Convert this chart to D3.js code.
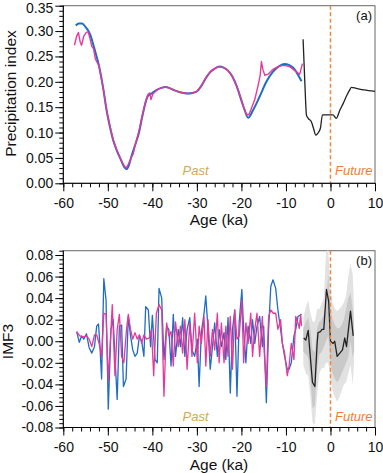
<!DOCTYPE html>
<html><head><meta charset="utf-8">
<script src="https://cdn.jsdelivr.net/npm/d3@7"></script>
<style>
body{margin:0;background:#fff}
svg{display:block}
text{font-family:"Liberation Sans",Arial,Helvetica,sans-serif}
</style>
</head><body>
<svg id="c" width="383" height="473"></svg>
<script>
// ---------- DATA ----------
const xTicks = [-60,-50,-40,-30,-20,-10,0,10];
const yTicksA = [0.00,0.05,0.10,0.15,0.20,0.25,0.30,0.35];
const yTicksB = [-0.08,-0.06,-0.04,-0.02,0.00,0.02,0.04,0.06,0.08];

// Panel (a) precipitation index
const ageBlueA = [-57.2,-56.5,-55.8,-55.0,-54.0,-53.0,-52.0,-51.0,-50.3,-49.5,-48.8,-48.0,-47.0,-46.3,-45.8,-45.3,-44.8,-44.0,-43.0,-42.3,-41.5,-41.0,-40.0,-39.0,-38.0,-37.0,-36.0,-35.0,-34.0,-33.0,-32.0,-31.0,-30.0,-29.0,-28.0,-27.0,-26.0,-25.0,-24.0,-23.0,-22.0,-21.0,-20.0,-19.3,-18.5,-17.4,-15.9,-14.4,-12.9,-11.5,-10.3,-8.4,-7.3,-6.5];
const valBlueA = [0.311,0.315,0.315,0.308,0.294,0.265,0.232,0.185,0.145,0.110,0.085,0.065,0.045,0.032,0.028,0.035,0.050,0.072,0.100,0.130,0.160,0.172,0.178,0.184,0.188,0.190,0.187,0.183,0.180,0.178,0.177,0.178,0.181,0.192,0.207,0.219,0.226,0.230,0.228,0.222,0.210,0.190,0.163,0.145,0.129,0.144,0.171,0.200,0.220,0.231,0.235,0.228,0.214,0.201];

const ageMagA = [-57.5,-57.0,-56.6,-56.2,-55.9,-55.4,-54.8,-54.4,-54.0,-53.6,-53.2,-52.8,-52.0,-51.0,-50.3,-49.5,-48.8,-48.0,-47.0,-46.3,-45.9,-45.5,-45.0,-44.7,-44.3,-44.0,-43.0,-42.3,-41.5,-41.0,-40.6,-40.3,-39.9,-39.0,-38.0,-37.0,-36.0,-35.0,-34.0,-33.0,-32.0,-31.0,-30.0,-29.0,-28.0,-27.0,-26.0,-25.0,-24.0,-23.0,-22.0,-21.0,-20.0,-19.5,-18.9,-18.3,-17.0,-16.2,-15.8,-15.5,-15.2,-14.75,-14.0,-13.0,-12.0,-11.0,-10.0,-9.0,-8.0,-6.9,-6.3];
const valMagA = [0.272,0.290,0.297,0.278,0.272,0.290,0.298,0.298,0.285,0.270,0.265,0.245,0.232,0.185,0.145,0.112,0.086,0.066,0.046,0.034,0.030,0.036,0.045,0.052,0.058,0.070,0.103,0.133,0.162,0.175,0.178,0.165,0.176,0.184,0.188,0.190,0.187,0.183,0.180,0.178,0.177,0.178,0.181,0.192,0.208,0.220,0.226,0.230,0.228,0.222,0.210,0.190,0.165,0.150,0.136,0.135,0.165,0.195,0.212,0.240,0.225,0.213,0.215,0.224,0.229,0.232,0.232,0.229,0.222,0.215,0.236];

const ageBlackA = [-6.15,-5.9,-5.6,-5.4,-5.0,-4.27,-3.8,-3.3,-2.8,-2.25,-1.8,-0.56,0.56,1.3,2.1,2.9,3.6,4.2,4.7,5.8,7.5,10.0];
const valBlackA = [0.284,0.230,0.165,0.135,0.128,0.121,0.108,0.095,0.099,0.109,0.135,0.135,0.135,0.128,0.144,0.158,0.172,0.182,0.189,0.187,0.184,0.181];

// Panel (b) IMF3
const ageBlueB = [-57.0,-56.4,-55.9,-55.4,-54.8,-54.2,-53.6,-53.0,-52.5,-52.1,-51.8,-51.4,-50.9,-50.4,-49.9,-49.3,-48.8,-48.4,-47.9,-47.4,-46.9,-46.5,-45.9,-45.4,-44.9,-44.4,-43.9,-43.4,-42.9,-42.4,-41.9,-41.5,-40.9,-40.4,-40.0,-39.4,-38.9,-38.5,-37.9,-37.4,-36.8,-36.3,-35.8,-35.3,-34.8,-34.2,-33.7,-33.2,-32.7,-32.2,-31.6,-31.1,-30.5,-29.9,-29.5,-29.0,-28.4,-28.0,-27.5,-27.0,-26.5,-26.0,-25.4,-25.0,-24.5,-23.9,-23.5,-23.0,-22.5,-22.0,-21.5,-21.0,-20.5,-19.9,-19.5,-19.0,-18.5,-17.9,-17.5,-17.0,-16.5,-15.9,-15.3,-15.0,-14.4,-13.9,-13.4,-12.9,-12.3,-11.8,-11.2,-10.8,-10.3,-9.7,-9.3,-8.8,-8.2,-7.8,-7.3,-6.5];
const valBlueB = [0.009,-0.001,0.005,0.002,0.007,-0.006,-0.011,-0.005,0.014,0.016,-0.002,-0.035,0.058,0.038,-0.063,0.011,0.020,-0.014,-0.054,0.014,0.015,-0.042,-0.035,0.023,0.005,-0.008,-0.014,-0.011,0.005,0.000,-0.014,0.032,0.029,-0.005,0.024,-0.017,-0.020,0.049,0.040,-0.017,0.014,0.011,-0.023,0.025,-0.014,0.011,-0.005,0.022,-0.014,0.011,0.022,-0.008,-0.014,0.002,-0.042,0.008,0.026,0.042,0.011,-0.026,-0.005,0.017,-0.014,0.011,-0.005,0.008,-0.017,0.022,-0.048,0.011,0.029,-0.051,0.018,0.048,0.011,-0.020,0.014,-0.002,0.020,-0.002,0.014,0.023,-0.005,0.014,-0.057,0.011,0.051,0.057,0.049,0.029,0.011,-0.002,-0.014,-0.026,-0.026,-0.020,0.005,0.011,0.023,0.025];

const ageMagB = [-57.0,-56.3,-55.5,-54.8,-54.2,-53.6,-53.0,-52.5,-51.9,-51.4,-50.9,-50.4,-49.9,-49.0,-48.4,-47.9,-47.4,-46.9,-46.4,-45.8,-45.4,-44.9,-44.4,-43.9,-43.4,-42.9,-42.4,-41.9,-41.3,-40.7,-40.2,-39.7,-39.1,-38.5,-37.9,-37.4,-36.8,-36.3,-35.8,-35.3,-34.8,-34.2,-33.7,-33.2,-32.7,-32.2,-31.6,-31.1,-30.5,-29.9,-29.5,-29.0,-28.4,-28.0,-27.5,-27.0,-26.5,-26.0,-25.4,-25.0,-24.5,-23.9,-23.5,-23.0,-22.5,-22.0,-21.5,-21.0,-20.5,-19.9,-19.5,-19.0,-18.5,-17.9,-17.5,-17.0,-16.5,-15.9,-15.3,-14.9,-14.4,-13.9,-13.4,-12.9,-12.3,-11.8,-11.2,-10.8,-10.3,-9.7,-9.3,-8.8,-8.2,-7.8,-7.3,-7.0,-6.7,-6.5];
const valMagB = [0.009,0.005,0.004,0.005,0.002,-0.005,0.006,0.006,-0.003,-0.014,0.026,0.025,-0.037,0.034,-0.032,0.011,0.025,-0.014,-0.020,0.011,0.025,0.011,0.002,0.008,0.002,0.006,-0.002,0.006,0.002,0.003,0.011,-0.032,0.026,0.034,0.029,-0.051,0.017,0.005,0.009,-0.023,0.018,-0.005,0.014,-0.011,0.020,-0.026,0.017,-0.014,0.026,-0.020,0.014,-0.002,0.023,-0.023,0.020,-0.014,0.011,-0.008,0.026,-0.020,0.017,-0.020,0.014,-0.014,0.023,-0.026,0.029,0.002,0.005,0.038,-0.020,0.017,-0.002,0.026,-0.014,0.011,0.026,-0.014,0.023,-0.008,-0.042,0.023,0.029,0.026,0.026,0.011,0.020,-0.002,-0.011,-0.032,-0.023,-0.002,-0.017,0.023,0.017,0.012,0.025,0.014];

const ageBlackB = [-6.0,-5.55,-5.0,-4.65,-4.05,-3.5,-3.0,-2.8,-2.25,-1.9,-1.5,-0.9,-0.4,0.0,0.6,0.95,1.5,2.1,2.7,3.2,3.6,4.5,5.1];
const valBlackB = [0.003,0.001,0.010,-0.008,-0.038,-0.042,-0.002,0.008,0.009,0.011,0.011,0.048,0.037,0.000,-0.002,0.000,-0.014,-0.011,-0.008,0.003,-0.005,0.028,0.005];

const bandAge = [-6.1,-5.5,-5.0,-4.5,-4.0,-3.5,-3.0,-2.5,-2.0,-1.5,-1.0,-0.5,0.0,0.5,1.0,1.5,2.0,2.5,3.0,3.5,4.0,4.5,5.0,5.3];
const outerHi = [0.022,0.032,0.038,0.026,0.018,0.018,0.030,0.030,0.035,0.040,0.082,0.085,0.050,0.035,0.030,0.028,0.030,0.032,0.036,0.042,0.060,0.072,0.062,0.030];
const outerLo = [-0.022,-0.030,-0.032,-0.052,-0.076,-0.077,-0.050,-0.030,-0.025,-0.025,-0.020,-0.020,-0.035,-0.046,-0.052,-0.056,-0.052,-0.046,-0.040,-0.038,-0.030,-0.022,-0.040,-0.020];
const innerHi = [0.012,0.018,0.022,0.010,-0.008,-0.010,0.012,0.018,0.020,0.025,0.035,0.062,0.030,0.020,0.015,0.012,0.012,0.015,0.020,0.030,0.040,0.045,0.030,0.015];
const innerLo = [-0.010,-0.012,-0.015,-0.035,-0.062,-0.060,-0.025,-0.012,-0.010,-0.005,0.000,0.005,-0.020,-0.030,-0.035,-0.038,-0.035,-0.030,-0.025,-0.020,-0.015,0.000,-0.015,-0.008];

// ---------- DRAW ----------
const svg = d3.select("#c");
const L = 63.3, R = 375;
const x = d3.scaleLinear().domain([-60,10]).range([L,R]);
const minorX = d3.range(-60, 10.01, 2);

const COL_BLUE = "#1f6cc6", COL_MAG = "#e8379b", COL_BLK = "#222",
      COL_DASH = "#f0883e", COL_PAST = "#d5a853", COL_FUT = "#ef7c36";

function zipPts(a, v){ return a.map((d,i)=>[d, v[i]]); }

function panel(cfg){
  const {top, bottom, ydom, yMajor, yMinor, label, labelX, labelY, tag, tagY, textY} = cfg;
  const y = d3.scaleLinear().domain(ydom).range([bottom, top]);
  const g = svg.append("g");
  g.append("rect").attr("x",L).attr("y",top).attr("width",R-L).attr("height",bottom-top)
    .attr("fill","none").attr("stroke","#666").attr("stroke-width",1);
  cfg.draw(g, y);
  g.append("line").attr("x1",x(0)).attr("x2",x(0)).attr("y1",top).attr("y2",bottom)
    .attr("stroke",COL_DASH).attr("stroke-width",1.5).attr("stroke-dasharray","4,2.5");
  const ay = g.append("g").attr("transform",`translate(${L},0)`)
    .call(d3.axisLeft(y).tickValues(yMinor).tickSize(4).tickFormat(""));
  ay.select(".domain").remove();
  const ay2 = g.append("g").attr("transform",`translate(${L},0)`)
    .call(d3.axisLeft(y).tickValues(yMajor).tickSize(8).tickPadding(2).tickFormat(d=>d.toFixed(2)));
  ay2.select(".domain").attr("stroke","#000").attr("d",`M0,${top}V${bottom}`);
  // keep a label sitting at the very top inside the picture
  ay2.selectAll(".tick text").attr("dy", function(){
    const t = d3.select(this.parentNode).attr("transform");
    const ty = +t.match(/,([\d.\-e]+)\)/)[1];
    return ty < 8 ? "0.45em" : "0.32em";
  });
  const ax = g.append("g").attr("transform",`translate(0,${bottom})`)
    .call(d3.axisBottom(x).tickValues(minorX).tickSize(4).tickFormat(""));
  ax.select(".domain").remove();
  const ax2 = g.append("g").attr("transform",`translate(0,${bottom})`)
    .call(d3.axisBottom(x).tickValues(xTicks).tickSize(8).tickPadding(7).tickFormat(d=>String(d)));
  ax2.select(".domain").attr("d",`M${L},0H${R}`);
  g.selectAll(".tick line").attr("stroke","#000").attr("stroke-width",1);
  g.selectAll(".tick text").attr("font-size",14).attr("fill","#111")
    .style("font-family",'"Liberation Sans",Arial,sans-serif');
  g.append("text").attr("x",219).attr("y",bottom+42).attr("text-anchor","middle")
    .attr("font-size",15.5).attr("fill","#111").text("Age (ka)");
  g.append("text").attr("transform",`translate(${labelX},${labelY}) rotate(-90)`)
    .attr("text-anchor","middle").attr("font-size",15.5).attr("fill","#111").text(label);
  g.append("text").attr("x",372).attr("y",tagY).attr("text-anchor","end")
    .attr("font-size",13).attr("fill","#111").text(tag);
  g.append("text").attr("x",195.5).attr("y",textY).attr("text-anchor","middle")
    .attr("font-size",13).attr("font-style","italic").attr("fill",COL_PAST).text("Past");
  g.append("text").attr("x",335).attr("y",textY).attr("text-anchor","start")
    .attr("font-size",13).attr("font-style","italic").attr("fill",COL_FUT).text("Future");
}

panel({
  top:5.7, bottom:183.3, ydom:[0,0.35], yMajor:yTicksA,
  yMinor:d3.range(0,0.3501,0.01),
  label:"Precipitation index", labelX:16, labelY:93.5,
  tag:"(a)", tagY:20, textY:174.5,
  draw:(g,y)=>{
    const smooth = d3.line().x(d=>x(d[0])).y(d=>y(d[1])).curve(d3.curveMonotoneX);
    const lin = d3.line().x(d=>x(d[0])).y(d=>y(d[1]));
    g.append("path").attr("d",smooth(zipPts(ageBlueA,valBlueA))).attr("fill","none")
      .attr("stroke",COL_BLUE).attr("stroke-width",2);
    g.append("path").attr("d",lin(zipPts(ageMagA,valMagA))).attr("fill","none")
      .attr("stroke",COL_MAG).attr("stroke-width",1.4).attr("stroke-linejoin","round");
    g.append("path").attr("d",smooth(zipPts(ageBlackA,valBlackA))).attr("fill","none")
      .attr("stroke",COL_BLK).attr("stroke-width",1.3).attr("stroke-linejoin","round");
  }
});

panel({
  top:250.7, bottom:427.5, ydom:[-0.08,0.084], yMajor:yTicksB,
  yMinor:d3.range(-0.08,0.0841,0.004),
  label:"IMF3", labelX:12.5, labelY:341.5,
  tag:"(b)", tagY:265, textY:421,
  draw:(g,y)=>{
    const outer = bandAge.map((a,i)=>[a,outerLo[i],outerHi[i]]);
    const inner = bandAge.map((a,i)=>[a,innerLo[i],innerHi[i]]);
    const area = d3.area().x(d=>x(d[0])).y0(d=>y(d[1])).y1(d=>y(d[2]));
    g.append("path").attr("d",area(outer)).attr("fill","#e2e2e2");
    g.append("path").attr("d",area(inner)).attr("fill","#c9c9c9");
    const line = d3.line().x(d=>x(d[0])).y(d=>y(d[1]));
    g.append("path").attr("d",line(zipPts(ageBlueB,valBlueB))).attr("fill","none")
      .attr("stroke",COL_BLUE).attr("stroke-width",1.3).attr("stroke-linejoin","round");
    g.append("path").attr("d",line(zipPts(ageMagB,valMagB))).attr("fill","none")
      .attr("stroke",COL_MAG).attr("stroke-width",1.3).attr("stroke-linejoin","round");
    g.append("path").attr("d",line(zipPts(ageBlackB,valBlackB))).attr("fill","none")
      .attr("stroke",COL_BLK).attr("stroke-width",1.3).attr("stroke-linejoin","round");
  }
});
</script>
</body></html>
